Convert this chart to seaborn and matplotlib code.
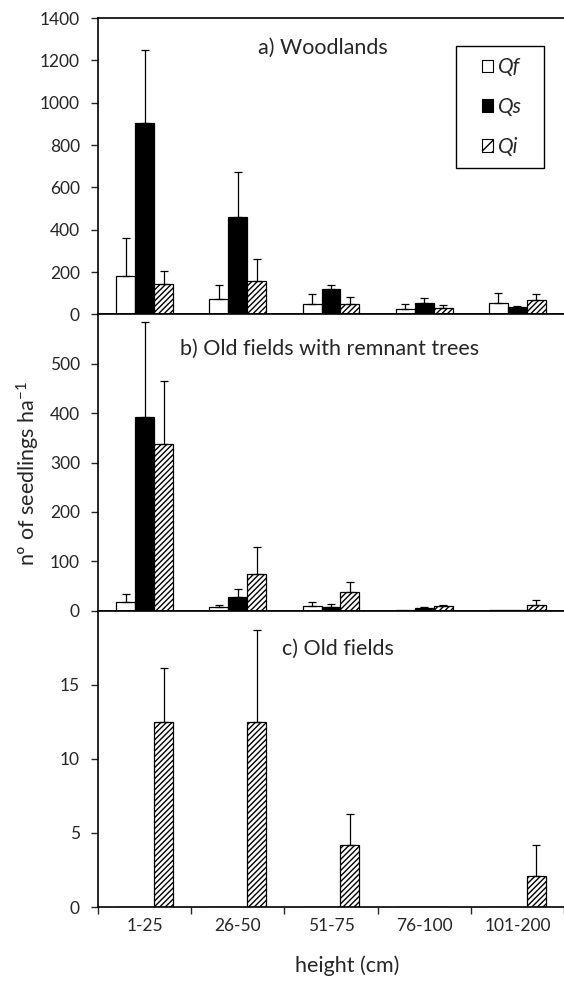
import numpy as np
import pandas as pd
import matplotlib
matplotlib.use("Agg")
import matplotlib.pyplot as plt
import matplotlib.patches as mpatches
import seaborn as sns

# Datos
alturas = ["1-25", "26-50", "51-75", "76-100", "101-200"]
especies = ["Qf", "Qs", "Qi"]

# a) Woodlands (media, error superior)
a_qf = [180, 71, 49, 25, 56]
a_qs = [904, 458, 119, 56, 33]
a_qi = [144, 157, 50, 31, 69]
a_qf_err = [179, 70, 45, 25, 44]
a_qs_err = [346, 213, 22, 21, 8]
a_qi_err = [63, 103, 33, 14, 25]

# b) Old fields with remnant trees
b_qf = [18, 7.5, 9.5, 1, 0.5]
b_qs = [393, 28, 7.5, 5.4, 0.5]
b_qi = [338, 74, 37, 10, 11.5]
b_qf_err = [16, 3.5, 8, 0, 0]
b_qs_err = [192, 15, 6, 1.6, 0]
b_qi_err = [127, 55, 21, 2, 10.5]

# c) Old fields
c_qf = [0, 0, 0, 0, 0]
c_qs = [0, 0, 0, 0, 0]
c_qi = [12.5, 12.5, 4.17, 0, 2.08]
c_qf_err = [0, 0, 0, 0, 0]
c_qs_err = [0, 0, 0, 0, 0]
c_qi_err = [3.6, 6.2, 2.08, 0, 2.09]

paneles = [
    ("a) Woodlands", [a_qf, a_qs, a_qi], [a_qf_err, a_qs_err, a_qi_err], 1400, np.arange(0, 1401, 200), (0.482, 0.9)),
    ("b) Old fields with remnant trees", [b_qf, b_qs, b_qi], [b_qf_err, b_qs_err, b_qi_err], 600, np.arange(0, 501, 100), (0.497, 0.885)),
    ("c) Old fields", [c_qf, c_qs, c_qi], [c_qf_err, c_qs_err, c_qi_err], 20, np.arange(0, 16, 5), (0.514, 0.87)),
]

sns.set_style("ticks")
plt.rcParams['font.family'] = ['Lato', 'DejaVu Sans']
plt.rcParams['mathtext.default'] = 'regular'
plt.rcParams['hatch.linewidth'] = 1.0

fig = plt.figure(figsize=(5.64, 9.86), dpi=100)
left, right = 0.1738, 1.0
bottom, top = 0.0801, 0.9817
h = (top - bottom) / 3

colores = {"Qf": "white", "Qs": "black", "Qi": "white"}

for i, (titulo, medias, errores, ymax, yticks, tpos) in enumerate(paneles):
    ax = fig.add_axes([left, top - (i + 1) * h, right - left, h])
    df = pd.DataFrame({
        "altura": np.repeat(alturas, 3),
        "especie": especies * len(alturas),
        "valor": [medias[k][j] for j in range(len(alturas)) for k in range(3)],
    })
    sns.barplot(data=df, x="altura", y="valor", hue="especie", order=alturas, hue_order=especies,
                palette=colores, edgecolor="black", linewidth=0.9, width=0.61, errorbar=None,
                legend=False, ax=ax)
    barras = list(ax.containers)
    for k, cont in enumerate(barras):
        xs = [b.get_x() + b.get_width() / 2 for b in cont]
        ys = [b.get_height() for b in cont]
        if especies[k] == "Qi":
            for b in cont:
                b.set_hatch("//////")
        err = errores[k]
        xe = [x for x, e in zip(xs, err) if e > 0]
        ye = [y for y, e in zip(ys, err) if e > 0]
        ee = [e for e in err if e > 0]
        if ee:
            ax.errorbar(xe, ye, yerr=[np.zeros(len(ee)), ee], fmt="none", ecolor="black",
                        elinewidth=0.9, capsize=3, capthick=0.9, zorder=1)
    ax.set_ylim(0, ymax)
    ax.set_xlim(-0.5, len(alturas) - 0.5)
    ax.set_yticks(yticks)
    ax.tick_params(axis="y", direction="out", length=5, width=1, labelsize=12.5, pad=8)
    ax.set_xlabel("")
    ax.set_ylabel("")
    for s in ["left", "bottom", "top"]:
        ax.spines[s].set_visible(True)
        ax.spines[s].set_linewidth(1.2)
        ax.spines[s].set_color("black")
    ax.spines["right"].set_visible(False)
    ax.text(tpos[0], tpos[1], titulo, transform=ax.transAxes, ha="center", va="center", fontsize=15.5)
    if i < 2:
        ax.set_xticks([])
    else:
        ax.set_xticks(np.arange(-0.5, len(alturas) - 0.4, 1))
        ax.set_xticklabels([])
        ax.tick_params(axis="x", which="major", direction="out", length=5, width=1)
        ax.set_xticks(np.arange(len(alturas)), minor=True)
        ax.set_xticklabels(alturas, minor=True)
        ax.tick_params(axis="x", which="minor", length=0, labelsize=12.5, pad=8)
    if i == 0:
        handles = [
            mpatches.Patch(facecolor="white", edgecolor="black", linewidth=0.8),
            mpatches.Patch(facecolor="black", edgecolor="black", linewidth=0.8),
            mpatches.Patch(facecolor="white", edgecolor="black", hatch="///", linewidth=0.8),
        ]
        # caja de la leyenda
        ax.add_patch(mpatches.Rectangle((0.769, 0.493), 0.188, 0.413, transform=ax.transAxes,
                                        facecolor="white", edgecolor="black", linewidth=1.0, zorder=4))
        leg = ax.legend(handles, especies, loc="center", bbox_to_anchor=(0.867, 0.70),
                        frameon=False, handlelength=0.55, handleheight=0.55, handletextpad=0.25,
                        labelspacing=0.95, borderpad=0.2, borderaxespad=0,
                        prop={"style": "italic", "size": 15})
        leg.set_zorder(5)

fig.text(0.05, 0.52, "nº of seedlings ha$^{-1}$", rotation=90, ha="center", va="center", fontsize=15.5)
fig.text(0.615, 0.021, "height (cm)", ha="center", va="center", fontsize=15.5)

fig.savefig("out.png", dpi=100)
